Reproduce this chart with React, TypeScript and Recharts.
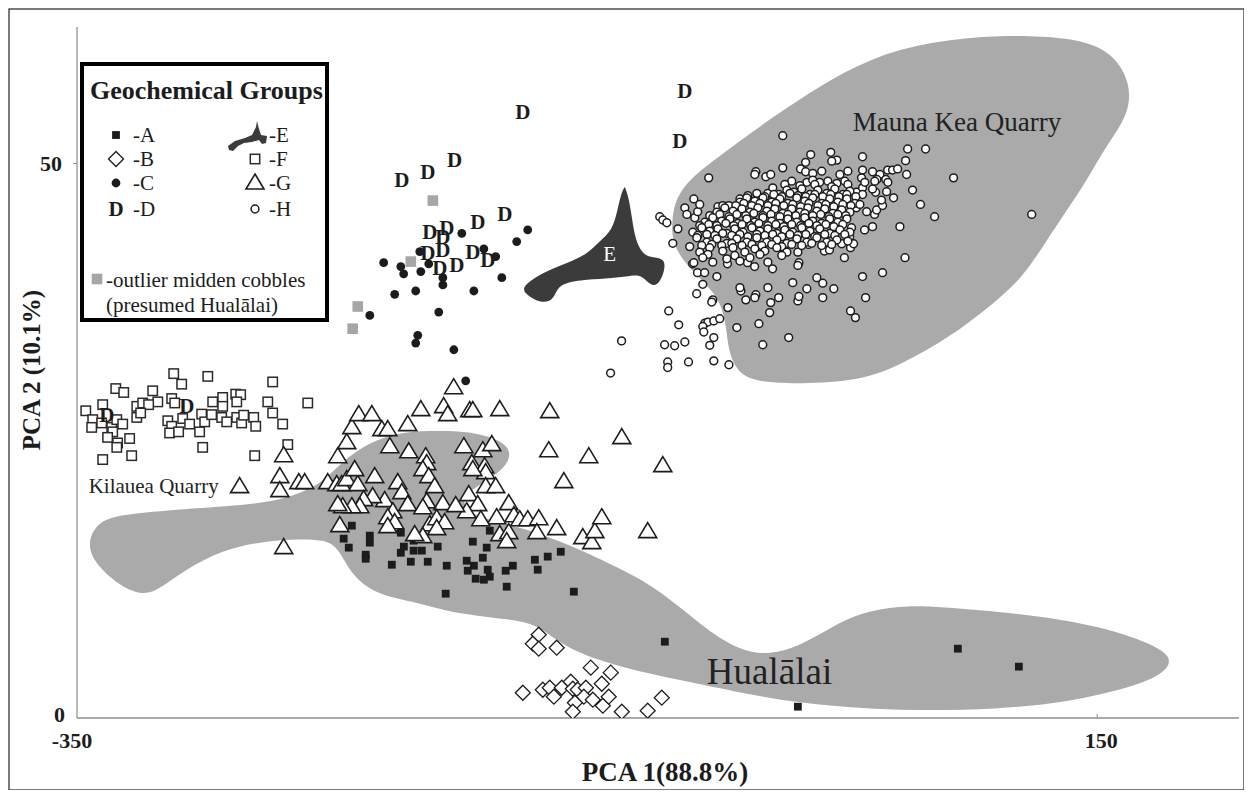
import { ScatterChart, Scatter, XAxis, YAxis } from "recharts";

// ── Data (PCA 1, PCA 2) ──────────────────────────────────────────────────────

type Pt = [number, number];

const xTicks = [-350, 150];
const yTicks = [0, 50];

const maunaKeaOutline: Pt[] = [
  [-58.6, 44.5], [-57.1, 46.7], [-49.8, 48.6], [-35.0, 50.7], [-10.5, 54.0], [14.1, 57.0],
  [38.6, 59.5], [68.0, 61.0], [102.3, 61.6], [136.6, 61.4], [157.0, 60.2], [166.5, 57.3],
  [165.5, 54.4], [154.8, 51.7], [145.0, 48.5], [135.2, 45.8], [125.4, 43.1], [113.1, 39.6],
  [98.0, 37.2], [78.3, 34.4], [53.5, 31.8], [33.7, 30.4], [4.3, 30.1], [-18.2, 30.3],
  [-26.8, 31.3], [-31.0, 33.2], [-32.0, 35.9], [-36.5, 38.3], [-50.2, 40.5], [-58.0, 42.7],
];

const hualalaiOutline: Pt[] = [
  [-345.5, 15.6], [-340.0, 17.8], [-325.6, 18.4], [-293.3, 18.9], [-260.4, 19.3], [-244.0, 20.0],
  [-230.5, 21.1], [-222.2, 22.7], [-211.0, 24.4], [-195.3, 25.7], [-177.1, 25.9], [-159.0, 25.9],
  [-142.0, 25.1], [-136.2, 23.8], [-142.0, 22.2], [-153.2, 21.0], [-161.5, 19.9], [-159.0, 18.6],
  [-149.2, 17.9], [-126.6, 16.9], [-102.1, 15.1], [-77.6, 12.9], [-63.0, 11.3], [-44.5, 8.4],
  [-25.2, 6.0], [-10.4, 5.7], [4.3, 6.5], [19.0, 8.1], [33.7, 9.5], [53.3, 10.1], [70.4, 10.1],
  [118.5, 9.3], [151.3, 8.3], [181.5, 6.4], [187.0, 5.1], [181.5, 3.9], [167.5, 2.8],
  [135.1, 1.4], [102.3, 0.8], [53.3, 0.6], [4.3, 1.3], [-25.2, 2.3], [-48.2, 3.2], [-80.5, 4.4],
  [-107.5, 6.0], [-120.3, 7.8], [-129.6, 8.8], [-162.4, 9.3], [-182.5, 10.4], [-203.5, 11.1],
  [-215.5, 12.9], [-221.6, 15.2], [-227.6, 16.1], [-244.3, 16.15], [-268.8, 15.7], [-288.8, 14.3],
  [-303.5, 12.5], [-314.4, 11.0], [-326.0, 11.5], [-340.0, 13.6],
];

const groupEOutline: Pt[] = [
  [-132.5, 38.7], [-126.6, 39.6], [-119.8, 40.3], [-109.9, 41.0], [-100.1, 41.8], [-93.8, 43.0],
  [-87.6, 44.0], [-85.2, 45.7], [-83.2, 47.4], [-81.5, 47.9], [-81.5, 47.9], [-79.4, 46.8],
  [-77.9, 44.9], [-76.4, 43.2], [-73.0, 41.8], [-67.8, 41.5], [-61.0, 41.4], [-62.9, 39.7],
  [-66.8, 38.8], [-70.9, 39.4], [-74.4, 40.0], [-80.5, 39.8], [-90.4, 39.6], [-103.6, 39.5],
  [-113.6, 39.1], [-115.5, 38.2], [-118.3, 37.5], [-123.2, 37.5], [-128.5, 38.0],
];

const groupA: Pt[] = [
  [-215.3, 17.34], [-206.5, 16.44], [-206.5, 15.81], [-219.3, 16.17], [-216.8, 15.36], [-208.5, 14.72],
  [-208.5, 14.36], [-195.7, 13.82], [-191.3, 16.71], [-191.3, 14.9], [-189.8, 15.45], [-186.4, 14.09],
  [-185.0, 15.09], [-185.0, 15.99], [-181.0, 15.09], [-178.1, 14.09], [-173.2, 15.45], [-168.8, 13.73],
  [-169.3, 11.21], [-159.0, 14.18], [-158.5, 13.28], [-156.0, 15.9], [-155.5, 13.73], [-154.6, 12.56],
  [-151.1, 14.45], [-150.6, 12.47], [-149.2, 15.36], [-148.7, 13.37], [-147.7, 12.74], [-147.7, 16.89],
  [-139.9, 13.28], [-136.4, 13.73], [-139.4, 11.84], [-125.6, 14.27], [-124.2, 13.37], [-119.3, 14.55],
  [-112.9, 14.99], [-106.5, 11.39], [-61.9, 6.88], [3.3, 1.02], [81.7, 6.25], [111.6, 4.63],
];

const groupB: Pt[] = [
  [-123.7, 7.51], [-126.6, 6.7], [-123.7, 6.25], [-114.9, 6.34], [-98.2, 4.54], [-88.4, 4.09],
  [-92.8, 3.09], [-131.5, 2.28], [-121.7, 2.55], [-118.3, 2.73], [-116.3, 1.92], [-112.4, 2.73],
  [-108.0, 3.27], [-107.0, 2.64], [-104.6, 2.55], [-100.6, 2.73], [-101.6, 1.92], [-106.0, 1.38],
  [-107.0, 0.57], [-97.2, 1.65], [-92.3, 1.11], [-89.4, 1.92], [-83.0, 0.57], [-70.3, 0.66],
  [-63.4, 1.83],
];

const groupC: Pt[] = [
  [-199.7, 41.05], [-191.3, 40.7], [-189.9, 40.05], [-182.0, 42.05], [-181.5, 40.25], [-177.6, 40.95],
  [-170.7, 39.7], [-170.7, 39.05], [-161.4, 43.7], [-150.6, 42.3], [-144.8, 41.6], [-134.5, 42.95],
  [-129.1, 44.0], [-141.8, 39.7], [-155.5, 38.5], [-184.0, 38.5], [-194.3, 38.2], [-172.7, 36.6],
  [-206.5, 36.3], [-183.0, 34.5], [-184.0, 33.8], [-165.3, 33.2], [-159.5, 30.4],
];

const groupD: Pt[] = [
  [-131.5, 54.6], [-52.1, 56.5], [-54.6, 52.0], [-190.8, 48.5], [-178.1, 49.2], [-164.9, 50.3],
  [-140.3, 45.4], [-153.6, 44.75], [-177.1, 43.85], [-168.8, 44.2], [-170.7, 43.4], [-170.7, 42.2],
  [-178.1, 41.9], [-156.0, 42.05], [-148.7, 41.3], [-172.2, 40.6], [-163.9, 40.8],
  [-335.4, 27.35], [-296.2, 28.1],
];

const groupF: Pt[] = [
  [-302.6, 31.05], [-285.9, 30.8], [-254.1, 30.3], [-298.7, 30.1], [-331.0, 29.7], [-327.1, 29.35],
  [-312.9, 29.5], [-310.4, 28.5], [-303.6, 28.8], [-302.1, 28.4], [-283.5, 28.5], [-278.6, 28.9],
  [-278.6, 28.1], [-272.2, 29.2], [-269.8, 29.15], [-271.7, 28.5], [-256.5, 28.5], [-236.9, 28.4],
  [-337.4, 28.25], [-320.7, 28.1], [-317.8, 28.4], [-314.9, 28.25], [-345.7, 27.7], [-342.3, 26.9],
  [-342.8, 26.2], [-337.9, 26.6], [-333.0, 26.2], [-330.5, 26.9], [-327.6, 26.5], [-332.5, 25.8],
  [-335.0, 25.3], [-330.1, 24.8], [-330.5, 24.4], [-324.2, 25.2], [-323.2, 23.65], [-337.4, 23.3],
  [-320.7, 27.1], [-318.8, 27.5], [-305.5, 26.8], [-303.6, 26.3], [-304.6, 25.7], [-300.2, 25.8],
  [-298.2, 27.0], [-294.8, 26.5], [-289.9, 25.8], [-288.9, 27.4], [-287.4, 26.7], [-284.0, 27.35],
  [-279.1, 27.1], [-276.6, 26.7], [-271.7, 27.1], [-269.3, 26.6], [-268.3, 27.3], [-263.4, 27.1],
  [-262.4, 26.3], [-254.1, 27.5], [-249.2, 26.5], [-246.7, 24.65], [-262.9, 23.65], [-288.4, 24.4],
];

const groupG: Pt[] = [
  [-270.3, 20.86], [-248.7, 23.65], [-250.6, 21.76], [-250.6, 20.5], [-241.3, 21.22], [-238.4, 21.22],
  [-248.7, 15.36], [-227.1, 21.22], [-222.7, 21.04], [-220.3, 21.04], [-217.8, 21.49], [-212.4, 21.04],
  [-213.9, 22.39], [-204.1, 21.76], [-222.2, 23.56], [-217.8, 24.83], [-215.3, 26.18], [-211.9, 27.35],
  [-205.5, 27.35], [-200.6, 26.0], [-197.7, 26.0], [-187.9, 26.45], [-196.7, 24.46], [-187.4, 24.0],
  [-192.8, 21.22], [-190.8, 20.32], [-187.9, 19.24], [-199.2, 19.6], [-205.1, 19.96], [-209.5, 19.69],
  [-211.4, 19.05], [-215.3, 19.05], [-219.8, 19.05], [-222.2, 19.24], [-195.2, 18.6], [-196.7, 17.43],
  [-221.2, 17.34], [-165.4, 29.78], [-181.5, 27.8], [-170.3, 28.07], [-168.3, 27.35], [-157.5, 27.71],
  [-156.0, 27.71], [-142.8, 27.8], [-118.3, 27.62], [-83.0, 25.28], [-99.2, 23.56], [-118.8, 24.1],
  [-160.4, 24.46], [-151.1, 24.1], [-146.7, 24.65], [-156.5, 22.93], [-150.2, 22.66], [-149.7, 22.12],
  [-156.0, 22.39], [-179.1, 23.56], [-178.6, 22.93], [-180.5, 22.39], [-177.6, 21.76], [-174.7, 20.86],
  [-111.4, 21.31], [-149.7, 20.86], [-144.8, 20.86], [-158.0, 20.14], [-153.6, 19.24], [-138.4, 19.33],
  [-135.9, 18.24], [-144.3, 18.06], [-133.0, 17.88], [-129.1, 17.88], [-123.7, 17.97], [-152.1, 17.88],
  [-159.0, 18.6], [-170.7, 19.33], [-164.4, 19.15], [-178.6, 19.5], [-180.5, 18.96], [-197.7, 18.06],
  [-194.3, 17.61], [-197.7, 17.25], [-177.1, 17.43], [-173.7, 17.97], [-169.8, 17.61], [-173.7, 17.07],
  [-180.5, 16.35], [-184.5, 16.53], [-142.8, 16.53], [-138.4, 16.71], [-139.4, 15.9], [-124.6, 16.71],
  [-114.9, 17.07], [-102.1, 16.26], [-97.7, 15.81], [-96.2, 16.8], [-92.8, 18.06], [-70.3, 16.8],
  [-62.9, 22.75],
];

const groupH: Pt[] = [
  // scattered points around the Mauna Kea cluster
  [-4.1, 52.5], [-40.4, 48.7], [-64.4, 45.2], [-62.9, 44.9], [-60.9, 44.65], [-55.5, 44.1],
  [-58.0, 42.8], [-47.7, 46.8], [-52.1, 46.0], [-51.1, 45.4], [-47.2, 45.1], [-45.8, 45.65],
  [-44.8, 46.3], [9.6, 50.8], [19.4, 51.0], [22.4, 50.3], [19.9, 50.2], [35.0, 50.6], [57.1, 51.3],
  [65.9, 51.3], [56.1, 50.25], [79.6, 48.7], [56.6, 49.0], [59.5, 47.6], [63.4, 46.3], [70.3, 45.2],
  [53.3, 44.3], [55.8, 41.5], [50.2, 46.9], [44.8, 40.15], [35.0, 39.8], [36.5, 37.9], [29.1, 36.7],
  [31.5, 36.1], [-1.2, 34.3], [-13.9, 33.65], [-26.6, 35.2], [-31.0, 37.0], [-15.8, 35.55],
  [-10.5, 36.55], [-10.0, 37.45], [-6.1, 37.9], [3.3, 37.6], [3.8, 38.0], [7.7, 38.7], [0.8, 39.25],
  [12.6, 39.7], [15.5, 39.2], [20.9, 38.7], [15.5, 37.9], [-11.4, 38.8], [-17.3, 38.16], [-17.8, 37.9],
  [-22.2, 37.7], [-24.6, 38.5], [-25.1, 38.8], [-36.4, 39.8], [-43.3, 39.1], [-46.3, 38.25],
  [-38.4, 37.7], [-38.9, 37.5], [-60.0, 36.7], [-55.1, 35.45], [-42.3, 35.6], [-40.8, 35.7],
  [-37.9, 35.8], [-35.0, 36.0], [-43.3, 35.3], [-42.8, 34.8], [-37.9, 34.3], [-39.9, 33.6],
  [-62.0, 33.65], [-57.1, 33.56], [-52.1, 33.9], [-60.5, 32.1], [-60.5, 31.6], [-50.3, 32.1],
  [-37.9, 32.2], [-30.5, 31.85], [-83.1, 34.0], [-88.5, 31.1], [-48.3, 40.95], [-45.9, 40.15],
  [-42.4, 40.15], [-31.2, 40.95], [-21.4, 41.05], [-17.9, 40.7], [-9.1, 40.5], [3.3, 42.0],
  [3.8, 41.05], [3.3, 40.8], [8.5, 42.7], [16.3, 42.1], [18.8, 42.2], [26.1, 41.5], [29.1, 42.4],
  [30.6, 42.76], [24.8, 42.76], [36.0, 44.0], [39.9, 44.3], [40.9, 45.4], [41.9, 45.8], [44.8, 46.2],
  [37.0, 45.65], [44.3, 46.7], [41.4, 47.4], [39.9, 47.7], [46.8, 47.45], [47.3, 49.4], [49.7, 49.4],
  [52.2, 49.5], [43.5, 49.0], [42.0, 48.55], [46.4, 48.55], [47.4, 48.3], [35.0, 49.4], [34.5, 48.7],
  [39.9, 49.25], [32.0, 47.4], [35.0, 47.8], [4.6, 49.5], [7.1, 50.1], [7.1, 49.25], [-4.1, 49.6],
  [-17.3, 49.25], [-17.8, 49.0], [-12.4, 48.8], [-10.0, 49.0], [-35.9, 46.1], [-33.5, 46.2],
  [-30.5, 46.2], [-25.1, 46.8], [-42.8, 44.3], [-49.7, 42.5], [-47.7, 41.05], [117.9, 45.4],
  [41.0, 48.4], [36.1, 48.3], [35.0, 47.2], [32.0, 46.0], [29.6, 44.2], [28.7, 43.4],
  // dense core
  [10.6, 49.1], [15.0, 49.3], [23.9, 49.0], [27.8, 49.3],
  [0.3, 48.4], [7.7, 48.3], [10.6, 48.5], [14.0, 48.3], [18.0, 48.4], [22.4, 48.2], [26.3, 48.4],
  [-3.1, 48.1], [4.3, 48.0], [11.6, 48.1], [19.9, 47.9], [27.8, 48.1],
  [-11.4, 47.3], [-9.0, 47.8], [-6.0, 47.2], [-2.1, 47.6], [1.3, 47.4], [5.2, 47.7], [9.2, 47.2],
  [13.1, 47.6], [17.5, 47.3], [21.4, 47.7], [25.3, 47.2], [28.8, 47.5],
  [-21.2, 47.1], [-16.8, 47.3], [-12.9, 47.0], [-8.5, 47.2], [-4.6, 47.0], [-0.6, 47.3], [3.3, 47.1],
  [7.2, 47.0], [11.6, 47.2], [15.5, 47.0], [19.4, 47.2], [23.4, 47.0], [27.3, 47.2], [31.7, 47.0],
  [-25.1, 46.5], [-21.7, 46.9], [-17.8, 46.6], [-13.8, 46.9], [-9.5, 46.5], [-5.5, 46.8], [-1.6, 46.4],
  [2.8, 46.9], [6.7, 46.6], [10.6, 46.9], [15.0, 46.4], [18.9, 46.8], [22.9, 46.5], [27.3, 46.8],
  [31.2, 46.4],
  [-27.1, 46.2], [-23.2, 46.4], [-19.3, 46.2], [-15.3, 46.4], [-11.4, 46.2], [-7.5, 46.4], [-3.6, 46.2],
  [0.8, 46.3], [4.7, 46.1], [8.7, 46.4], [13.1, 46.2], [17.0, 46.3], [20.9, 46.1], [25.3, 46.3],
  [29.3, 46.2], [33.7, 46.3],
  [-36.4, 45.6], [-32.5, 46.0], [-28.5, 45.7], [-24.1, 45.9], [-20.2, 45.6], [-16.3, 46.0],
  [-11.9, 45.7], [-8.0, 45.9], [-4.1, 45.5], [0.3, 45.9], [4.3, 45.6], [8.2, 46.0], [12.6, 45.7],
  [16.5, 45.9], [20.4, 45.5], [24.8, 45.8], [28.8, 45.6],
  [-39.9, 45.3], [-35.0, 45.4], [-30.5, 45.2], [-26.6, 45.4], [-22.2, 45.3], [-18.3, 45.5],
  [-13.8, 45.3], [-9.9, 45.4], [-5.5, 45.2], [-1.6, 45.4], [2.3, 45.3], [6.7, 45.5], [10.6, 45.3],
  [14.5, 45.4], [18.5, 45.2], [22.9, 45.4], [26.8, 45.3],
  [-42.3, 44.7], [-38.4, 45.1], [-34.0, 44.8], [-30.0, 45.0], [-26.1, 44.6], [-21.7, 45.0],
  [-17.8, 44.7], [-13.8, 45.1], [-9.5, 44.8], [-5.5, 44.6], [-1.6, 45.0], [2.8, 44.7], [6.7, 45.1],
  [10.6, 44.8], [15.0, 44.6], [18.9, 45.0], [22.9, 44.7], [27.3, 45.0],
  [-44.8, 44.4], [-40.4, 44.5], [-36.4, 44.4], [-32.0, 44.6], [-28.1, 44.4], [-24.1, 44.5],
  [-19.8, 44.4], [-15.8, 44.6], [-11.4, 44.4], [-7.5, 44.5], [-3.6, 44.3], [0.3, 44.5], [4.7, 44.4],
  [8.7, 44.6], [12.6, 44.4], [17.0, 44.5], [20.9, 44.3], [25.3, 44.5],
  [-48.2, 43.8], [-43.8, 44.2], [-39.9, 43.9], [-35.9, 44.1], [-31.5, 43.7], [-27.6, 44.1],
  [-23.6, 43.8], [-19.2, 44.2], [-15.3, 43.9], [-11.4, 44.1], [-7.0, 43.7], [-3.1, 44.0], [0.8, 43.8],
  [5.2, 44.2], [9.2, 43.9], [14.0, 44.1], [18.9, 43.7], [23.9, 44.0], [28.8, 43.8],
  [-45.8, 43.5], [-41.3, 43.6], [-37.4, 43.5], [-33.5, 43.7], [-29.1, 43.5], [-25.1, 43.6],
  [-21.2, 43.4], [-16.8, 43.6], [-12.9, 43.5], [-9.0, 43.6], [-4.6, 43.4], [-0.6, 43.6], [3.3, 43.5],
  [7.2, 43.6], [11.6, 43.4], [16.5, 43.6], [21.4, 43.5], [26.3, 43.6],
  [-46.2, 43.3], [-41.3, 42.9], [-36.4, 43.2], [-31.5, 42.8], [-26.6, 43.2], [-21.7, 42.9],
  [-16.8, 43.3], [-11.9, 42.9], [-7.0, 43.1], [-2.1, 42.8], [2.8, 43.2], [7.7, 42.9], [12.6, 43.3],
  [17.5, 42.9], [22.4, 43.1], [27.8, 43.0],
  [-43.8, 42.6], [-38.9, 42.7], [-34.0, 42.6], [-29.1, 42.8], [-24.1, 42.6], [-19.2, 42.7],
  [-14.4, 42.6], [-9.5, 42.7], [-4.6, 42.5], [0.3, 42.7], [5.2, 42.6], [10.1, 42.8], [15.0, 42.6],
  [19.9, 42.7],
  [-44.8, 42.0], [-39.9, 42.4], [-33.5, 42.1], [-28.5, 42.4], [-22.7, 42.0], [-17.8, 42.3],
  [-12.9, 42.1], [-7.0, 42.4], [-2.1, 42.0],
  [-40.8, 41.8], [-27.6, 41.7], [-15.3, 41.8], [-4.6, 41.7],
  [-43.3, 41.5], [-38.4, 41.1], [-31.5, 41.4], [-25.1, 41.2], [-20.2, 41.5], [-11.4, 41.1],
];

const outlierCobbles: Pt[] = [
  [-175.6, 46.65], [-186.4, 41.15], [-212.4, 37.1], [-214.9, 35.1],
];

// annotation anchors (data units)
const regionLabels = [
  { x: 30.2, y: 53.7, text: "Mauna Kea Quarry", kind: "big" },
  { x: -344.3, y: 20.95, text: "Kilauea Quarry", kind: "small" },
  { x: -41.3, y: 4.2, text: "Hualālai", kind: "huge" },
  { x: -88.9, y: 41.8, text: "E", kind: "e" },
];

// ── Helpers ──────────────────────────────────────────────────────────────────

const SERIF = '"Liberation Serif", "Times New Roman", Times, serif';
const INK = "#1c1c1c";

const rows = (pts: Pt[]) => pts.map(([x, y]) => ({ x, y }));

const Hidden = () => <g />;

const FilledSquare = ({ cx, cy }: any) => (
  <rect x={cx - 3.9} y={cy - 3.9} width={7.8} height={7.8} fill={INK} />
);
const OpenDiamond = ({ cx, cy }: any) => (
  <path
    d={`M${cx},${cy - 7.5}L${cx + 7.5},${cy}L${cx},${cy + 7.5}L${cx - 7.5},${cy}Z`}
    fill="#fff"
    stroke={INK}
    strokeWidth={1.3}
  />
);
const FilledCircle = ({ cx, cy }: any) => <circle cx={cx} cy={cy} r={4.4} fill={INK} />;
const OpenSquare = ({ cx, cy }: any) => (
  <rect x={cx - 4.7} y={cy - 4.7} width={9.4} height={9.4} fill="#fff" stroke="#2a2a2a" strokeWidth={1.5} />
);
const OpenTriangle = ({ cx, cy }: any) => (
  <path
    d={`M${cx},${cy - 9}L${cx + 9},${cy + 6}L${cx - 9},${cy + 6}Z`}
    fill="#fff"
    stroke={INK}
    strokeWidth={1.6}
  />
);
const OpenCircle = ({ cx, cy }: any) => (
  <circle cx={cx} cy={cy} r={3.9} fill="#fff" stroke={INK} strokeWidth={1.5} />
);
const GreySquare = ({ cx, cy }: any) => (
  <rect x={cx - 5.3} y={cy - 5.3} width={10.6} height={10.6} fill="#a6a6a6" />
);
const LetterD = ({ cx, cy }: any) => (
  <text
    x={cx}
    y={cy}
    textAnchor="middle"
    dominantBaseline="central"
    fontFamily={SERIF}
    fontWeight="bold"
    fontSize={21}
    fill={INK}
  >
    D
  </text>
);

const RegionLabel = ({ cx, cy, payload }: any) => {
  const k = payload.kind;
  if (k === "e")
    return (
      <text x={cx} y={cy} textAnchor="middle" dominantBaseline="central" fontFamily={SERIF} fontSize={21} fill="#fff">
        {payload.text}
      </text>
    );
  const size = k === "big" ? 27 : k === "huge" ? 37 : 21;
  return (
    <text x={cx} y={cy} dominantBaseline="central" fontFamily={SERIF} fontSize={size} fill="#222">
      {payload.text}
    </text>
  );
};

const XTick = ({ x, y, payload }: any) => {
  const v = payload.value;
  return (
    <g>
      {v === 150 && <line x1={x} y1={y - 4} x2={x} y2={y} stroke="#8c8c8c" />}
      <text
        x={x + (v === 150 ? 4 : -5)}
        y={y + 22}
        textAnchor="middle"
        dominantBaseline="central"
        fontFamily={SERIF}
        fontWeight="bold"
        fontSize={22}
        fill={INK}
      >
        {v}
      </text>
    </g>
  );
};

const YTick = ({ x, y, payload }: any) => {
  const v = payload.value;
  return (
    <g>
      {v === 50 && <line x1={x - 4} y1={y} x2={x} y2={y} stroke="#8c8c8c" />}
      <text
        x={x - (v === 0 ? 12 : 15)}
        y={y - (v === 0 ? 4 : 0)}
        textAnchor="end"
        dominantBaseline="central"
        fontFamily={SERIF}
        fontWeight="bold"
        fontSize={22}
        fill={INK}
      >
        {v}
      </text>
    </g>
  );
};

const regionProps = (fill: string) => ({
  line: { fill, stroke: "none" },
  lineJointType: "basisClosed" as const,
  shape: Hidden,
  isAnimationActive: false,
});

// ── Legend (static key) ──────────────────────────────────────────────────────

function LegendBox() {
  const lab = { fontFamily: SERIF, fontSize: 21, fill: INK, dominantBaseline: "central" as const };
  const rowsY = [127, 151, 175, 201];
  const left = ["-A", "-B", "-C", "-D"];
  const right = ["-E", "-F", "-G", "-H"];
  const leftIcons = [FilledSquare, OpenDiamond, FilledCircle, LetterD];
  const rightIcons = [null, OpenSquare, OpenTriangle, OpenCircle];
  return (
    <g>
      <rect x={74} y={56} width={245} height={256} fill="#fff" stroke="#000" strokeWidth={4} />
      <text x={82} y={91} fontFamily={SERIF} fontWeight="bold" fontSize={26} fill={INK}>
        Geochemical Groups
      </text>
      {rowsY.map((y, i) => {
        const L = leftIcons[i];
        const R = rightIcons[i];
        return (
          <g key={i}>
            <L cx={108} cy={y} />
            <text x={125} y={y} {...lab}>{left[i]}</text>
            {R && <R cx={247} cy={y} />}
            <text x={261} y={y} {...lab}>{right[i]}</text>
          </g>
        );
      })}
      <path
        d="M220,138 L227,133 L237,130 L244,127 L248,119 L249,113 L251,121 L253,127 L259,128 L258,135 L254,136 L251,132 L244,134 L236,135 L230,138 L225,143 L221,142 Z"
        fill="#3b3b3b"
      />
      <GreySquare cx={89} cy={271} />
      <text x={98} y={272} {...lab}>-outlier midden cobbles</text>
      <text x={98} y={297} {...lab}>(presumed Hualālai)</text>
    </g>
  );
}

// ── Chart ────────────────────────────────────────────────────────────────────

export default function App() {
  return (
    <div style={{ position: "relative", width: 1236, height: 782, background: "#fff" }}>
      <ScatterChart width={1236} height={782} margin={{ top: 19, right: 5, bottom: 0, left: 0 }}>
        <XAxis
          type="number"
          dataKey="x"
          domain={[-350, 219.5]}
          ticks={xTicks}
          allowDataOverflow
          height={72}
          tickSize={0}
          tickMargin={0}
          tickLine={false}
          axisLine={{ stroke: "#8c8c8c", strokeWidth: 1.3 }}
          tick={<XTick />}
        />
        <YAxis
          type="number"
          dataKey="y"
          domain={[0, 62.3]}
          ticks={yTicks}
          allowDataOverflow
          width={69}
          tickSize={0}
          tickMargin={0}
          tickLine={false}
          axisLine={{ stroke: "#8c8c8c", strokeWidth: 1.2 }}
          tick={<YTick />}
        />
        <Scatter data={rows(hualalaiOutline)} {...regionProps("#aaaaaa")} />
        <Scatter data={rows(maunaKeaOutline)} {...regionProps("#aaaaaa")} />
        <Scatter data={rows(groupEOutline)} {...regionProps("#3b3b3b")} />
        <Scatter data={regionLabels} shape={RegionLabel} isAnimationActive={false} />
        <Scatter data={rows(groupF)} shape={OpenSquare} isAnimationActive={false} />
        <Scatter data={rows(groupB)} shape={OpenDiamond} isAnimationActive={false} />
        <Scatter data={rows(groupA)} shape={FilledSquare} isAnimationActive={false} />
        <Scatter data={rows(groupG)} shape={OpenTriangle} isAnimationActive={false} />
        <Scatter data={rows(groupC)} shape={FilledCircle} isAnimationActive={false} />
        <Scatter data={rows(groupH)} shape={OpenCircle} isAnimationActive={false} />
        <Scatter data={rows(outlierCobbles)} shape={GreySquare} isAnimationActive={false} />
        <Scatter data={rows(groupD)} shape={LetterD} isAnimationActive={false} />
      </ScatterChart>
      <svg width={1236} height={782} style={{ position: "absolute", left: 0, top: 0, pointerEvents: "none" }}>
        <LegendBox />
        <text x={657} y={764} textAnchor="middle" dominantBaseline="central" fontFamily={SERIF} fontWeight="bold" fontSize={27} fill={INK}>
          PCA 1(88.8%)
        </text>
        <text
          transform="translate(23,362) rotate(-90)"
          textAnchor="middle"
          dominantBaseline="central"
          fontFamily={SERIF}
          fontWeight="bold"
          fontSize={25}
          fill={INK}
        >
          PCA 2 (10.1%)
        </text>
        <rect x={1} y={1} width={1235} height={781} fill="none" stroke="#333" strokeWidth={1.3} />
      </svg>
    </div>
  );
}
